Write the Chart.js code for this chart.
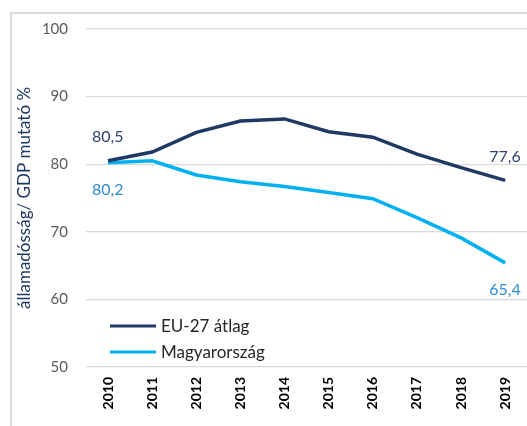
<!DOCTYPE html>
<html>
<head>
<meta charset="utf-8">
<script src="https://cdn.jsdelivr.net/npm/chart.js@4"></script>
<style>
  html, body { margin: 0; padding: 0; background: #fff; overflow: hidden; }
  #frame { position: absolute; left: 10px; top: 12px; width: 600px; height: 500px; border: 2px solid #d9d9d9; box-sizing: border-box; }
  #wrap { position: absolute; left: 0; top: 0; width: 532px; height: 426px; }
</style>
</head>
<body>
<div id="frame"></div>
<div id="wrap"><canvas id="debtChart"></canvas></div>
<script>
var years = ['2010', '2011', '2012', '2013', '2014', '2015', '2016', '2017', '2018', '2019'];
var euValues = [80.5, 81.8, 84.7, 86.4, 86.7, 84.8, 84.0, 81.5, 79.5, 77.6];
var huValues = [80.2, 80.5, 78.4, 77.4, 76.7, 75.8, 74.9, 72.1, 69.1, 65.4];
var seriesNames = ['EU-27 átlag', 'Magyarország'];
var yTicks = [50, 60, 70, 80, 90, 100];

var euColor = '#1f3864';
var huColor = '#00b0f0';

// end point labels, like the excel data labels
var endLabels = {
	id: 'endLabels',
	afterDatasetsDraw: function(chart){
		var ctx = chart.ctx;
		ctx.save();
		ctx.font = '16px Lato';
		ctx.textAlign = 'left';
		ctx.textBaseline = 'middle';
		var spec = [
			{ ds: 0, color: '#2f3f6e', dy: -24 },
			{ ds: 1, color: '#2e8bd0', dy: 27 }
		];
		spec.forEach(function(s){
			var meta = chart.getDatasetMeta(s.ds);
			var vals = chart.data.datasets[s.ds].data;
			[0, vals.length - 1].forEach(function(i){
				var pt = meta.data[i];
				var txt = vals[i].toFixed(1).replace('.', ',');
				ctx.fillStyle = s.color;
				ctx.fillText(txt, pt.x - 16, pt.y + s.dy);
			});
		});
		ctx.restore();
	}
};

// legend drawn inside the plot, bottom left
var innerLegend = {
	id: 'innerLegend',
	afterDraw: function(chart){
		var ctx = chart.ctx;
		var area = chart.chartArea;
		ctx.save();
		ctx.font = '17px Lato';
		ctx.textBaseline = 'middle';
		chart.data.datasets.forEach(function(ds, i){
			var y = area.bottom - 41 + i * 26;
			ctx.strokeStyle = ds.borderColor;
			ctx.lineWidth = 3;
			ctx.beginPath();
			ctx.moveTo(area.left + 24, y);
			ctx.lineTo(area.left + 70, y);
			ctx.stroke();
			ctx.fillStyle = '#262626';
			ctx.fillText(ds.label, area.left + 75, y + 1);
		});
		ctx.restore();
	}
};

var ctx = document.getElementById('debtChart').getContext('2d');

new Chart(ctx, {
	type: 'line',
	data: {
		labels: years,
		datasets: [
			{
				label: seriesNames[0],
				data: euValues,
				borderColor: euColor,
				backgroundColor: euColor,
				borderWidth: 3.5,
				pointRadius: 0,
				tension: 0
			},
			{
				label: seriesNames[1],
				data: huValues,
				borderColor: huColor,
				backgroundColor: huColor,
				borderWidth: 3.5,
				pointRadius: 0,
				tension: 0
			}
		]
	},
	options: {
		responsive: true,
		maintainAspectRatio: false,
		animation: false,
		layout: { padding: { top: 29, left: 14, right: 0, bottom: 0 } },
		plugins: {
			legend: { display: false },
			tooltip: { enabled: false }
		},
		scales: {
			x: {
				offset: true,
				grid: { display: false, drawTicks: false },
				border: { display: false },
				ticks: {
					color: '#000',
					font: { family: 'Lato', size: 14, weight: 'bold' },
					minRotation: 90,
					maxRotation: 90,
					padding: 10
				},
				afterFit: function(scale){ scale.height = 59; }
			},
			y: {
				min: 50,
				max: 100,
				afterBuildTicks: function(scale){
					scale.ticks = yTicks.map(function(v){ return { value: v }; });
				},
				grid: { color: '#d9d9d9', lineWidth: 1.2, drawTicks: false },
				border: { display: false },
				ticks: {
					color: '#595959',
					font: { family: 'Lato', size: 15 },
					padding: 18
				},
				title: {
					display: true,
					text: 'államadósság/ GDP mutató %',
					color: euColor,
					font: { family: 'Lato', size: 17 },
					padding: { top: 0, bottom: 4 }
				},
				afterFit: function(scale){ scale.width = 72; }
			}
		}
	},
	plugins: [endLabels, innerLegend]
});
</script>
</body>
</html>
